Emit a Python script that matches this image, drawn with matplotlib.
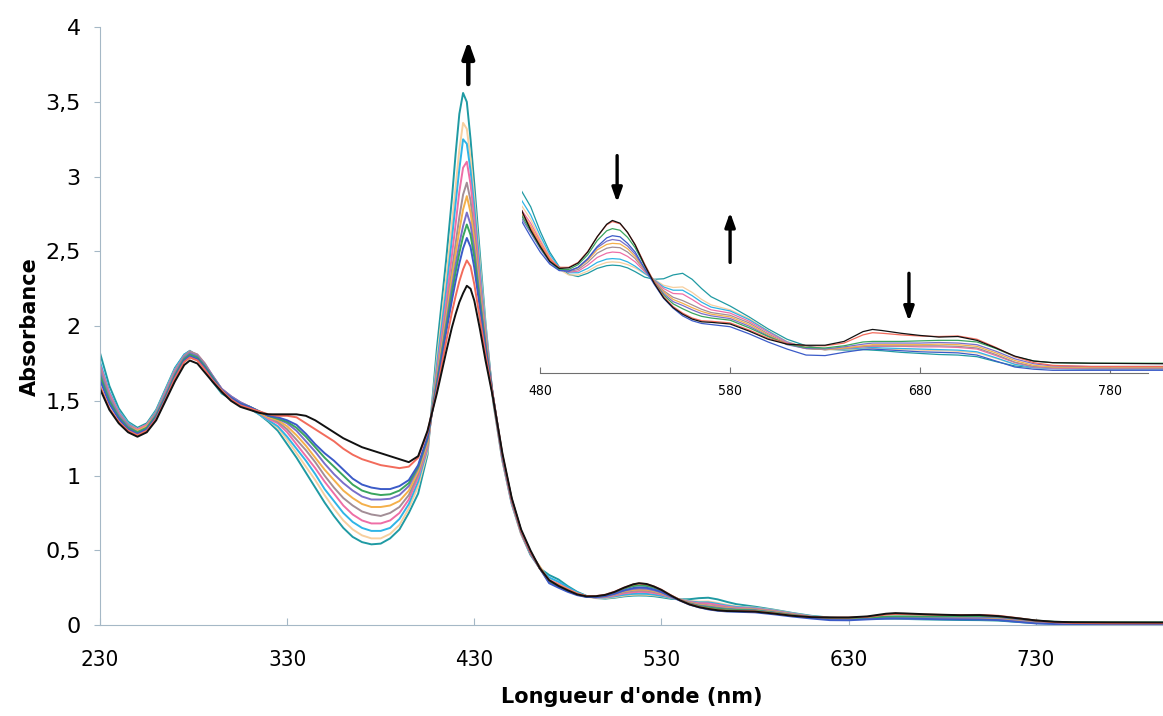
import matplotlib
matplotlib.use("Agg")
import matplotlib.pyplot as plt

plt.rcParams['font.family'] = ['DejaVu Sans']

# wavelength grid (nm)
wl = ([230, 235, 240, 245, 250, 255, 260, 265, 270, 275, 278, 282, 286, 290]
      + [295, 300, 305, 310, 315, 320, 325, 330, 335, 340, 345, 350, 355, 360, 365, 370,
         375, 380, 385, 390, 395, 400]
      + [405, 410, 415, 418, 420, 422, 424, 426, 428, 430, 433, 436, 440, 445, 450, 455,
         460, 465, 470]
      + [475, 480, 485, 490, 495, 500, 505, 510, 515, 518, 522, 526, 530, 535, 540, 545,
         550, 555, 560, 565, 570, 580, 590, 600, 610, 620, 630, 640, 650, 655, 660, 670,
         680, 690, 700, 710, 720, 730, 740, 750, 770, 810])

# absorbance spectra, first (black) to last (teal) of the titration
black = ([1.58, 1.44, 1.35, 1.29, 1.26, 1.29, 1.37, 1.50, 1.63, 1.74, 1.77, 1.75, 1.69, 1.63]
         + [1.56, 1.50, 1.46, 1.44, 1.42, 1.41, 1.41, 1.41, 1.41, 1.40, 1.37, 1.33, 1.29, 1.25,
            1.22, 1.19, 1.17, 1.15, 1.13, 1.11, 1.09, 1.13]
         + [1.30, 1.55, 1.83, 1.99, 2.08, 2.16, 2.22, 2.27, 2.25, 2.17, 1.98, 1.77, 1.52, 1.15,
            0.85, 0.64, 0.50, 0.38, 0.30]
         + [0.262, 0.232, 0.205, 0.192, 0.193, 0.202, 0.222, 0.25, 0.273, 0.28, 0.275, 0.258,
            0.235, 0.198, 0.165, 0.138, 0.12, 0.108, 0.099, 0.094, 0.093, 0.09, 0.077, 0.062,
            0.053, 0.051, 0.051, 0.058, 0.076, 0.08, 0.078, 0.073, 0.069, 0.066, 0.067, 0.06,
            0.046, 0.031, 0.022, 0.019, 0.018, 0.017])
red = ([1.60, 1.45, 1.36, 1.30, 1.27, 1.30, 1.38, 1.51, 1.65, 1.76, 1.79, 1.77, 1.71, 1.64]
       + [1.57, 1.51, 1.47, 1.45, 1.43, 1.41, 1.40, 1.40, 1.39, 1.35, 1.31, 1.27, 1.23, 1.18,
          1.14, 1.11, 1.09, 1.07, 1.06, 1.05, 1.06, 1.12]
       + [1.29, 1.57, 1.90, 2.09, 2.20, 2.30, 2.38, 2.44, 2.40, 2.28, 2.05, 1.81, 1.53, 1.14,
          0.84, 0.63, 0.49, 0.38, 0.30]
       + [0.265, 0.235, 0.208, 0.194, 0.194, 0.203, 0.223, 0.25, 0.272, 0.278, 0.274, 0.258,
          0.236, 0.2, 0.167, 0.14, 0.122, 0.11, 0.101, 0.096, 0.095, 0.092, 0.079, 0.064,
          0.054, 0.05, 0.05, 0.055, 0.07, 0.074, 0.073, 0.07, 0.068, 0.067, 0.068, 0.062,
          0.047, 0.03, 0.019, 0.014, 0.012, 0.012])
blue = ([1.64, 1.48, 1.38, 1.31, 1.28, 1.31, 1.39, 1.52, 1.66, 1.77, 1.80, 1.78, 1.72, 1.65]
        + [1.57, 1.52, 1.48, 1.46, 1.43, 1.40, 1.39, 1.37, 1.34, 1.28, 1.21, 1.15, 1.10, 1.04,
           0.98, 0.94, 0.92, 0.91, 0.91, 0.93, 0.97, 1.07]
        + [1.26, 1.60, 1.96, 2.17, 2.30, 2.42, 2.52, 2.59, 2.53, 2.39, 2.12, 1.85, 1.53, 1.13,
           0.84, 0.63, 0.49, 0.38, 0.28]
        + [0.25, 0.222, 0.2, 0.188, 0.187, 0.194, 0.21, 0.232, 0.248, 0.252, 0.25, 0.238,
           0.222, 0.192, 0.163, 0.137, 0.119, 0.105, 0.096, 0.091, 0.089, 0.085, 0.072, 0.057,
           0.044, 0.033, 0.032, 0.038, 0.043, 0.044, 0.043, 0.041, 0.039, 0.038, 0.037, 0.033,
           0.022, 0.011, 0.007, 0.005, 0.005, 0.005])
green = ([1.67, 1.50, 1.39, 1.32, 1.29, 1.32, 1.40, 1.53, 1.67, 1.78, 1.81, 1.79, 1.73, 1.66]
         + [1.57, 1.52, 1.48, 1.46, 1.43, 1.40, 1.38, 1.36, 1.32, 1.26, 1.19, 1.12, 1.06, 1.00,
            0.94, 0.90, 0.88, 0.87, 0.875, 0.90, 0.95, 1.06]
         + [1.25, 1.62, 1.99, 2.22, 2.36, 2.49, 2.60, 2.68, 2.61, 2.46, 2.16, 1.87, 1.53, 1.13,
            0.84, 0.63, 0.49, 0.38, 0.29]
         + [0.26, 0.23, 0.205, 0.19, 0.19, 0.199, 0.217, 0.243, 0.261, 0.265, 0.262, 0.249,
            0.23, 0.197, 0.167, 0.143, 0.127, 0.118, 0.11, 0.104, 0.101, 0.097, 0.083, 0.067,
            0.053, 0.047, 0.046, 0.05, 0.057, 0.058, 0.058, 0.058, 0.059, 0.06, 0.06, 0.057,
            0.045, 0.03, 0.022, 0.019, 0.018, 0.018])
purple = ([1.69, 1.51, 1.40, 1.33, 1.29, 1.32, 1.41, 1.54, 1.68, 1.79, 1.82, 1.80, 1.74, 1.67]
          + [1.58, 1.53, 1.49, 1.46, 1.43, 1.40, 1.38, 1.35, 1.30, 1.23, 1.16, 1.08, 1.01, 0.95,
             0.90, 0.86, 0.84, 0.84, 0.845, 0.87, 0.93, 1.05]
          + [1.24, 1.63, 2.02, 2.26, 2.41, 2.55, 2.67, 2.76, 2.68, 2.51, 2.19, 1.88, 1.53, 1.12,
             0.83, 0.62, 0.48, 0.38, 0.285]
          + [0.257, 0.228, 0.203, 0.189, 0.187, 0.194, 0.209, 0.23, 0.242, 0.245, 0.243, 0.233,
             0.218, 0.191, 0.167, 0.146, 0.131, 0.124, 0.116, 0.109, 0.105, 0.1, 0.086, 0.068,
             0.052, 0.045, 0.044, 0.048, 0.053, 0.055, 0.055, 0.055, 0.055, 0.056, 0.055, 0.052,
             0.04, 0.026, 0.017, 0.013, 0.012, 0.012])
orange = ([1.66, 1.50, 1.40, 1.33, 1.30, 1.33, 1.41, 1.54, 1.68, 1.79, 1.82, 1.80, 1.74, 1.66]
          + [1.57, 1.52, 1.48, 1.45, 1.42, 1.39, 1.37, 1.33, 1.27, 1.20, 1.12, 1.04, 0.97, 0.90,
             0.85, 0.81, 0.79, 0.79, 0.80, 0.83, 0.90, 1.03]
          + [1.22, 1.65, 2.06, 2.32, 2.48, 2.64, 2.78, 2.87, 2.76, 2.57, 2.23, 1.90, 1.52, 1.12,
             0.83, 0.62, 0.48, 0.39, 0.295]
          + [0.27, 0.238, 0.21, 0.192, 0.188, 0.193, 0.207, 0.226, 0.236, 0.238, 0.237, 0.228,
             0.214, 0.19, 0.168, 0.149, 0.135, 0.128, 0.12, 0.113, 0.108, 0.103, 0.089, 0.07,
             0.053, 0.045, 0.043, 0.046, 0.05, 0.052, 0.052, 0.052, 0.052, 0.053, 0.052, 0.049,
             0.037, 0.023, 0.014, 0.011, 0.011, 0.011])
gray = ([1.72, 1.53, 1.41, 1.34, 1.30, 1.33, 1.42, 1.55, 1.69, 1.80, 1.83, 1.81, 1.75, 1.67]
        + [1.58, 1.53, 1.49, 1.46, 1.42, 1.39, 1.36, 1.31, 1.24, 1.17, 1.09, 1.00, 0.92, 0.85,
           0.80, 0.76, 0.74, 0.73, 0.75, 0.79, 0.87, 1.01]
        + [1.21, 1.67, 2.10, 2.37, 2.55, 2.73, 2.88, 2.96, 2.84, 2.63, 2.27, 1.92, 1.52, 1.12,
           0.83, 0.62, 0.48, 0.39, 0.292]
        + [0.265, 0.235, 0.207, 0.19, 0.186, 0.19, 0.203, 0.22, 0.229, 0.231, 0.23, 0.222,
           0.21, 0.188, 0.169, 0.151, 0.139, 0.133, 0.125, 0.117, 0.111, 0.106, 0.092, 0.072,
           0.054, 0.045, 0.043, 0.045, 0.049, 0.05, 0.05, 0.05, 0.05, 0.05, 0.049, 0.046,
           0.034, 0.02, 0.012, 0.01, 0.009, 0.009])
pink = ([1.74, 1.55, 1.42, 1.34, 1.31, 1.34, 1.42, 1.56, 1.70, 1.80, 1.83, 1.81, 1.75, 1.67]
        + [1.58, 1.53, 1.49, 1.46, 1.42, 1.38, 1.35, 1.29, 1.21, 1.13, 1.05, 0.96, 0.88, 0.80,
           0.74, 0.70, 0.68, 0.68, 0.70, 0.75, 0.84, 0.99]
        + [1.19, 1.70, 2.16, 2.47, 2.68, 2.90, 3.06, 3.10, 2.95, 2.72, 2.32, 1.95, 1.52, 1.11,
           0.82, 0.62, 0.48, 0.38, 0.30]
        + [0.275, 0.242, 0.212, 0.192, 0.185, 0.187, 0.198, 0.212, 0.22, 0.222, 0.221, 0.214,
           0.204, 0.186, 0.17, 0.155, 0.146, 0.145, 0.135, 0.124, 0.116, 0.11, 0.095, 0.075,
           0.056, 0.046, 0.043, 0.045, 0.048, 0.049, 0.049, 0.049, 0.048, 0.048, 0.047, 0.044,
           0.032, 0.019, 0.011, 0.009, 0.008, 0.008])
sky = ([1.76, 1.56, 1.43, 1.35, 1.31, 1.34, 1.43, 1.57, 1.71, 1.81, 1.83, 1.80, 1.74, 1.66]
       + [1.57, 1.52, 1.48, 1.45, 1.41, 1.37, 1.33, 1.26, 1.18, 1.10, 1.01, 0.91, 0.83, 0.75,
          0.69, 0.65, 0.63, 0.63, 0.65, 0.71, 0.81, 0.96]
       + [1.18, 1.74, 2.24, 2.58, 2.82, 3.05, 3.25, 3.22, 3.04, 2.80, 2.38, 1.98, 1.52, 1.11,
          0.82, 0.62, 0.48, 0.38, 0.318]
       + [0.29, 0.252, 0.218, 0.194, 0.184, 0.184, 0.192, 0.203, 0.209, 0.21, 0.209, 0.204,
          0.196, 0.183, 0.171, 0.158, 0.152, 0.152, 0.142, 0.13, 0.121, 0.114, 0.098, 0.077,
          0.057, 0.046, 0.043, 0.044, 0.046, 0.047, 0.046, 0.045, 0.044, 0.043, 0.042, 0.039,
          0.028, 0.016, 0.01, 0.008, 0.007, 0.007])
peach = ([1.72, 1.55, 1.43, 1.35, 1.31, 1.34, 1.43, 1.57, 1.71, 1.80, 1.83, 1.80, 1.74, 1.65]
         + [1.56, 1.52, 1.48, 1.45, 1.41, 1.37, 1.32, 1.24, 1.15, 1.06, 0.97, 0.87, 0.78, 0.70,
            0.64, 0.60, 0.58, 0.58, 0.61, 0.67, 0.78, 0.93]
         + [1.16, 1.78, 2.32, 2.68, 2.93, 3.18, 3.36, 3.32, 3.12, 2.86, 2.42, 2.00, 1.51, 1.10,
            0.82, 0.61, 0.48, 0.38, 0.308]
         + [0.282, 0.246, 0.214, 0.19, 0.18, 0.18, 0.187, 0.197, 0.203, 0.204, 0.203, 0.199,
            0.193, 0.182, 0.172, 0.161, 0.157, 0.158, 0.148, 0.135, 0.125, 0.116, 0.1, 0.078,
            0.058, 0.047, 0.043, 0.043, 0.045, 0.045, 0.044, 0.043, 0.042, 0.041, 0.04, 0.037,
            0.027, 0.016, 0.01, 0.008, 0.007, 0.007])
teal = ([1.82, 1.60, 1.45, 1.36, 1.32, 1.35, 1.44, 1.58, 1.72, 1.81, 1.835, 1.80, 1.72, 1.63]
        + [1.55, 1.51, 1.48, 1.45, 1.41, 1.36, 1.30, 1.21, 1.12, 1.02, 0.92, 0.82, 0.73, 0.65,
           0.59, 0.555, 0.54, 0.545, 0.58, 0.64, 0.75, 0.88]
        + [1.14, 1.85, 2.45, 2.85, 3.15, 3.42, 3.56, 3.50, 3.25, 2.95, 2.48, 2.02, 1.50, 1.10,
           0.81, 0.61, 0.47, 0.38, 0.335]
        + [0.305, 0.26, 0.222, 0.195, 0.181, 0.177, 0.183, 0.192, 0.197, 0.198, 0.197, 0.193,
           0.186, 0.176, 0.172, 0.173, 0.18, 0.183, 0.172, 0.155, 0.14, 0.123, 0.103, 0.081,
           0.062, 0.05, 0.044, 0.042, 0.043, 0.042, 0.041, 0.038, 0.036, 0.034, 0.033, 0.03,
           0.021, 0.013, 0.01, 0.009, 0.009, 0.009])

spectra = [teal, peach, sky, pink, gray, orange, purple, green, blue, red, black]
colors = ['#1f9aa3', '#f7cf9f', '#2fb4e6', '#ee6ea6', '#a28e96', '#f4b04a',
          '#7a6fc9', '#3aa55d', '#3b5bc8', '#f26b5b', '#111111']

y_ticks = [0, 0.5, 1, 1.5, 2, 2.5, 3, 3.5, 4]
y_labels = ['0', '0,5', '1', '1,5', '2', '2,5', '3', '3,5', '4']
x_ticks = [230, 330, 430, 530, 630, 730]
inset_ticks = [480, 580, 680, 780]

fig = plt.figure(figsize=(11.63, 7.16), dpi=100)
ax = fig.add_axes([0.086, 0.127, 0.914, 0.835])

for spec, col in zip(spectra, colors):
    ax.plot(wl, spec, color=col, lw=1.4)

ax.set_xlim(230, 798)
ax.set_ylim(0, 4)
ax.set_xticks(x_ticks)
ax.set_yticks(y_ticks)
ax.set_yticklabels(y_labels)
for s in ['top', 'right']:
    ax.spines[s].set_visible(False)
for s in ['left', 'bottom']:
    ax.spines[s].set_color('#a5b8c6')
ax.tick_params(axis='y', direction='out', length=4, color='#a5b8c6', labelsize=16, pad=10)
ax.tick_params(axis='x', direction='in', length=5, color='#a5b8c6', labelsize=16, pad=18)
for lab in ax.get_xticklabels():
    lab.set_fontstretch('condensed')
ax.set_xlabel("Longueur d'onde (nm)", fontsize=15, fontweight='bold', labelpad=12)
ax.set_ylabel('Absorbance', fontsize=15, fontweight='bold', labelpad=4)

arrow = dict(arrowstyle='-|>,head_width=0.25,head_length=0.7', lw=3.2, color='black',
             mutation_scale=14, shrinkA=0, shrinkB=0)
ax.annotate('', xy=(426.8, 3.91), xytext=(426.8, 3.62), arrowprops=arrow)

# inset: zoom on the visible region
axi = fig.add_axes([0.449, 0.479, 0.551, 0.325])
axi.patch.set_alpha(0)
for spec, col in zip(spectra, colors):
    axi.plot(wl, spec, color=col, lw=0.9)
axi.set_xlim(470.5, 808)
axi.set_ylim(0, 0.427)
for s in ['top', 'right', 'left']:
    axi.spines[s].set_visible(False)
axi.spines['bottom'].set_color('#6f6f6f')
axi.spines['bottom'].set_bounds(480, 800)
axi.set_yticks([])
axi.set_xticks(inset_ticks)
axi.tick_params(axis='x', direction='in', length=4, color='#6f6f6f', labelsize=10, pad=8)
for lab in axi.get_xticklabels():
    lab.set_fontstretch('condensed')

arrow_i = dict(arrowstyle='-|>,head_width=0.25,head_length=0.7', lw=2.4, color='black',
               mutation_scale=12, shrinkA=0, shrinkB=0)
axi.annotate('', xy=(520.5, 0.313), xytext=(520.5, 0.399), arrowprops=arrow_i)
axi.annotate('', xy=(580, 0.295), xytext=(580, 0.203), arrowprops=arrow_i)
axi.annotate('', xy=(674.2, 0.095), xytext=(674.2, 0.183), arrowprops=arrow_i)

plt.savefig('out.png', dpi=100)
plt.close()
